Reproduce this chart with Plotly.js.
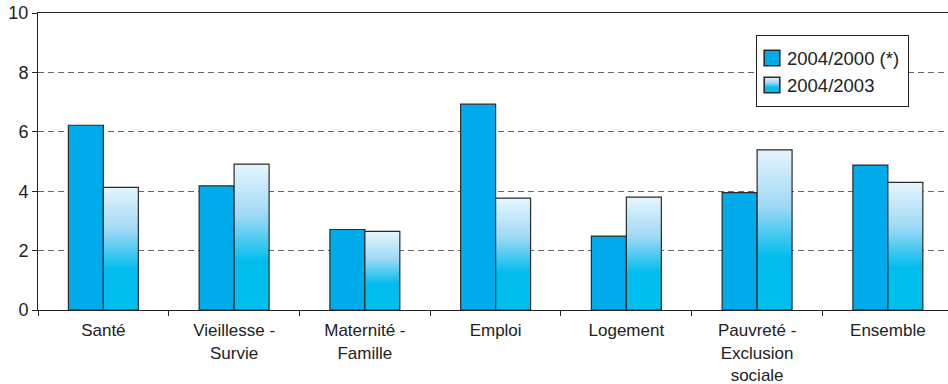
<!DOCTYPE html>
<html>
<head>
<meta charset="utf-8">
<script src="https://cdn.plot.ly/plotly-3.0.1.min.js"></script>
<style>html,body{margin:0;padding:0;background:#fff;}#chart{width:948px;height:384px;}</style>
</head>
<body>
<div id="chart"></div>
<script>
const categories = ["Santé", "Vieillesse -<br>Survie", "Maternité -<br>Famille", "Emploi", "Logement", "Pauvreté -<br>Exclusion<br>sociale", "Ensemble"];
const seriesNames = ["2004/2000 (*)", "2004/2003"];
const values2000 = [6.22, 4.18, 2.71, 6.93, 2.49, 3.95, 4.88];
const values2003 = [4.13, 4.91, 2.65, 3.77, 3.80, 5.39, 4.30];
const yTicks = [0, 2, 4, 6, 8, 10];

const fontFam = '"Liberation Sans", Arial, Helvetica, sans-serif';
const data = [
  {type: 'bar', name: seriesNames[0], x: categories, y: values2000,
   marker: {color: '#00abec', line: {color: '#2a2a2a', width: 1.2}}, hoverinfo: 'skip'},
  {type: 'bar', name: seriesNames[1], x: categories, y: values2003,
   marker: {color: '#00bfee', line: {color: '#2a2a2a', width: 1.2}}, hoverinfo: 'skip'}
];
const layout = {
  width: 948, height: 384,
  margin: {l: 38, r: 0, t: 13, b: 74, pad: 0},
  paper_bgcolor: '#fff', plot_bgcolor: '#fff',
  font: {family: fontFam, size: 17.5, color: '#222'},
  barmode: 'group', bargap: 0.465, bargroupgap: 0,
  showlegend: true,
  legend: {x: 0.789, y: 0.926, xanchor: 'left', yanchor: 'top',
    bgcolor: '#fff', bordercolor: '#222', borderwidth: 1,
    font: {family: fontFam, size: 18.5, color: '#222'}, traceorder: 'normal'},
  xaxis: {type: 'category', range: [-0.5, 6.46], showline: true, mirror: true,
    linecolor: '#222', linewidth: 1, ticks: 'outside', tickson: 'boundaries',
    ticklen: 5, tickcolor: '#222', showgrid: false, zeroline: false,
    ticklabelstandoff: 5,
    tickfont: {family: fontFam, size: 17, color: '#222'}, fixedrange: true},
  yaxis: {range: [0, 10], tickvals: yTicks, showline: true, linecolor: '#222',
    linewidth: 1, ticks: 'outside', ticklen: 5, tickcolor: '#222',
    showgrid: true, gridcolor: '#666', gridwidth: 1, griddash: '6px,4px',
    zeroline: false, tickfont: {family: fontFam, size: 18, color: '#222'}, fixedrange: true}
};

Plotly.newPlot('chart', data, layout, {staticPlot: true, displayModeBar: false}).then(function () {
  const ns = 'http://www.w3.org/2000/svg';
  const defs = document.querySelector('.main-svg defs');
  const grad = document.createElementNS(ns, 'linearGradient');
  grad.setAttribute('id', 'grad2003');
  grad.setAttribute('x1', '0'); grad.setAttribute('y1', '0');
  grad.setAttribute('x2', '0'); grad.setAttribute('y2', '1');
  [[0, '#e6f5fd'], [0.35, '#9fd9f5'], [0.67, '#00bdee'], [1, '#00c0ef']].forEach(function (s) {
    const st = document.createElementNS(ns, 'stop');
    st.setAttribute('offset', s[0]);
    st.setAttribute('stop-color', s[1]);
    grad.appendChild(st);
  });
  defs.appendChild(grad);
  const traces = document.querySelectorAll('.barlayer .trace');
  if (traces[1]) traces[1].querySelectorAll('path').forEach(function (p) { p.style.fill = 'url(#grad2003)'; });

  // legend fine-tuning (layout of items inside the box)
  const bg = document.querySelector('.legend rect.bg');
  if (bg) { bg.setAttribute('width', 152); bg.setAttribute('height', 71); }
  const legTraces = document.querySelectorAll('.legend .traces');
  legTraces.forEach(function (t, i) {
    const m = /translate\(([-\d.]+)[ ,]+([-\d.]+)\)/.exec(t.getAttribute('transform') || '');
    const tx = m ? parseFloat(m[1]) : 0;
    t.setAttribute('transform', 'translate(' + tx + ',' + (23 + 27 * i) + ')');
    t.querySelectorAll('.legendpoints path').forEach(function (p) {
      p.setAttribute('transform', 'translate(15,0) scale(1.3)');
      if (i === 1) p.style.fill = 'url(#grad2003)';
    });
    const txt = t.querySelector('.legendtext');
    if (txt) {
      txt.setAttribute('x', 30);
      txt.querySelectorAll('tspan').forEach(function (s) { if (s.hasAttribute('x')) s.setAttribute('x', 30); });
    }
  });
  document.querySelectorAll('.legend clipPath rect, .legend .scrollbox rect').forEach(function (r) {
    r.setAttribute('height', 80); r.setAttribute('width', 160);
  });
});
</script>
</body>
</html>
